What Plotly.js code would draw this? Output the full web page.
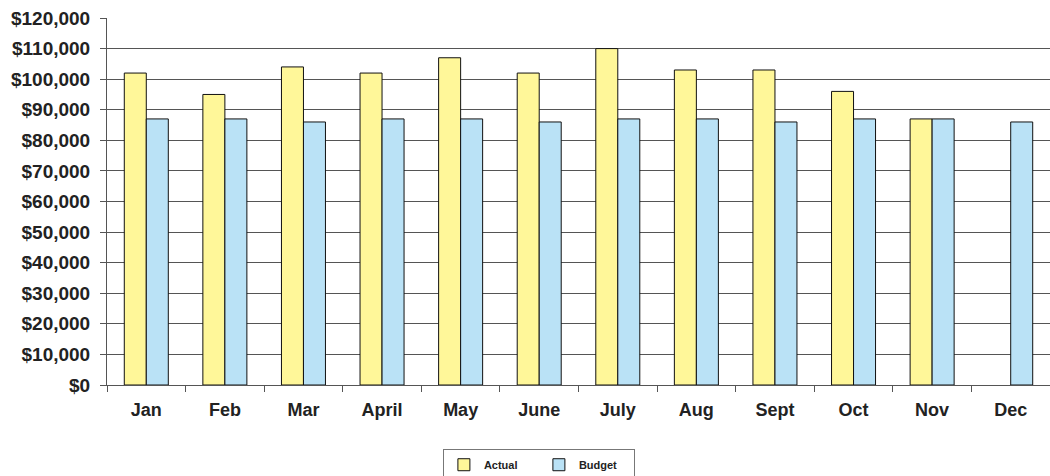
<!DOCTYPE html>
<html>
<head>
<meta charset="utf-8">
<script src="https://cdn.plot.ly/plotly-3.0.1.min.js"></script>
<style>html,body{margin:0;padding:0;background:#fff;}#chart{width:1050px;height:476px;}</style>
</head>
<body>
<div id="chart"></div>
<script>
const months = ["Jan","Feb","Mar","April","May","June","July","Aug","Sept","Oct","Nov","Dec"];
const actual = [102000, 95000, 104000, 102000, 107000, 102000, 110000, 103000, 103000, 96000, 87000, null];
const budget = [87000, 87000, 86000, 87000, 87000, 86000, 87000, 87000, 86000, 87000, 87000, 86000];
const yTicks = [0,10000,20000,30000,40000,50000,60000,70000,80000,90000,100000,110000,120000];
const yTickText = yTicks.map(v => "$" + v.toLocaleString("en-US"));

const data = [
  {type:"bar", name:"Actual", x:months, y:actual,
   marker:{color:"#FFF799", line:{color:"#111", width:1}}},
  {type:"bar", name:"Budget", x:months, y:budget,
   marker:{color:"#BAE2F6", line:{color:"#111", width:1}}}
];
const layout = {
  width:1050, height:476,
  margin:{l:107, r:0, t:18, b:91, autoexpand:false},
  paper_bgcolor:"#fff", plot_bgcolor:"#fff",
  font:{family:"Liberation Sans, Arial, sans-serif", color:"#222"},
  barmode:"group", bargap:0.44, bargroupgap:0,
  xaxis:{type:"category", tickson:"boundaries", ticks:"outside", ticklen:6, tickcolor:"#555",
    showline:true, linecolor:"#555", linewidth:1, showgrid:false, ticklabelstandoff:8,
    tickfont:{size:18, family:"Liberation Sans, Arial, sans-serif", weight:"bold", color:"#222"}},
  yaxis:{range:[0,120000], tickvals:yTicks, ticktext:yTickText, ticks:"outside", ticklen:6, tickcolor:"#555",
    showline:true, linecolor:"#555", linewidth:1, showgrid:true, gridcolor:"#555", gridwidth:1, zeroline:false,
    ticklabelstandoff:6,
    tickfont:{size:19, family:"Liberation Sans, Arial, sans-serif", weight:"bold", color:"#222"}},
  showlegend:true,
  legend:{orientation:"h", x:0.458, xanchor:"center", y:-0.175, yanchor:"top",
    entrywidth:50, entrywidthmode:"pixels",
    bordercolor:"#777", borderwidth:1, bgcolor:"#fff",
    font:{size:11, family:"Liberation Sans, Arial, sans-serif", weight:"bold", color:"#222"}}
};
Plotly.newPlot("chart", data, layout, {displayModeBar:false, staticPlot:true});
</script>
</body>
</html>
